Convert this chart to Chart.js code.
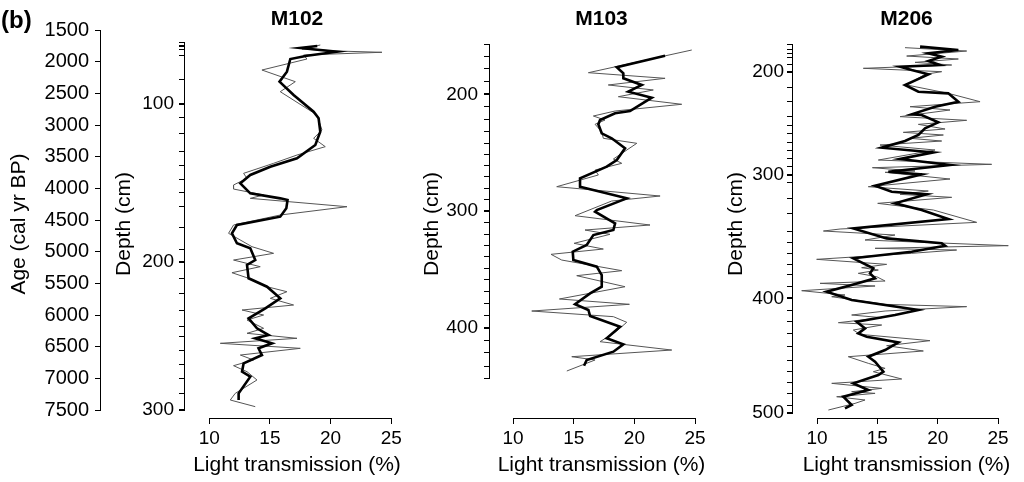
<!DOCTYPE html>
<html lang="en">
<head>
<meta charset="UTF-8">
<title>Light transmission cores</title>
<script src="https://cdn.jsdelivr.net/npm/chart.js"></script>
<style>
  body { margin: 0; background: #fff; font-family: 'Liberation Sans', Arial, sans-serif; }
  #wrap { position: relative; width: 1024px; height: 482px; overflow: hidden; }
  #wrap canvas { position: absolute; top: 0; }
  #tag { position: absolute; left: 1px; top: 8px; font: bold 24px/24px 'Liberation Sans', Arial, sans-serif; }
</style>
</head>
<body>
<div id="wrap">
  <canvas id="c102" width="412" height="482" style="left:0px"></canvas>
  <canvas id="c103" width="306" height="482" style="left:410px"></canvas>
  <canvas id="c206" width="312" height="482" style="left:712px"></canvas>
  <div id="tag">(b)</div>
</div>
<script>
// shared axes
const ageTicks = [1500, 2000, 2500, 3000, 3500, 4000, 4500, 5000, 5500, 6000, 6500, 7000, 7500];
const ltTicks = [10, 15, 20, 25];
const AGE_MIN = 1500, AGE_MAX = 7626;

// M102 : depth ticks (cm) and their ages
const m102Depth = [40, 50, 60, 70, 80, 90, 100, 110, 120, 130, 140, 150, 160, 170, 180, 190, 200, 210, 220, 230, 240, 250, 260, 270, 280, 290, 300];
const m102DepthAge = [1705, 1737, 1768, 1800, 1895, 2289, 2668, 2874, 3142, 3426, 3647, 3853, 4058, 4279, 4626, 4958, 5163, 5416, 5668, 5921, 6189, 6347, 6568, 6789, 6995, 7232, 7500];
const m102RawAge = [1737, 1800, 1832, 1852, 1895, 1958, 2132, 2316, 2474, 2842, 3079, 3210, 3342, 3474, 3605, 3763, 3842, 3947, 4011, 4105, 4158, 4290, 4421, 4579, 4710, 4921, 5026, 5132, 5237, 5332, 5420, 5553, 5632, 5737, 5842, 5921, 6000, 6079, 6210, 6289, 6368, 6447, 6526, 6632, 6710, 6800, 6895, 7026, 7237, 7342, 7447];
const m102RawLT = [19.15, 17.64, 20.52, 24.23, 17.77, 18.05, 14.34, 17.09, 15.85, 18.88, 19.29, 18.60, 19.56, 17.23, 15.30, 12.83, 13.11, 12.00, 12.00, 14.48, 13.38, 21.35, 15.85, 12.00, 11.59, 13.52, 15.30, 12.00, 14.20, 11.87, 13.24, 14.76, 16.40, 15.03, 16.95, 12.70, 14.48, 13.11, 14.48, 13.11, 17.23, 10.91, 17.50, 12.56, 13.65, 12.00, 13.11, 13.93, 12.14, 11.73, 13.79];
const m102SmAge = [1753, 1784, 1843, 1906, 1958, 2158, 2316, 2526, 2790, 2894, 3106, 3316, 3526, 3658, 3789, 3921, 4079, 4158, 4184, 4316, 4447, 4579, 4710, 4868, 4947, 5132, 5210, 5420, 5553, 5737, 5894, 6052, 6210, 6316, 6368, 6447, 6526, 6632, 6763, 6895, 6974, 7237, 7342];
const m102SmLT = [18.9, 17.5, 20.52, 18.05, 16.68, 16.40, 15.79, 16.95, 18.60, 19.01, 19.15, 18.74, 17.23, 15.03, 13.38, 12.56, 13.38, 15.85, 16.45, 16.35, 15.85, 12.28, 11.87, 12.28, 13.38, 13.79, 13.11, 13.24, 14.76, 15.85, 14.62, 13.24, 13.93, 14.89, 13.79, 15.17, 14.06, 14.34, 12.83, 12.70, 13.38, 12.42, 12.42];

// M103
const m103Depth = [160, 170, 180, 190, 200, 210, 220, 230, 240, 250, 260, 270, 280, 290, 300, 310, 320, 330, 340, 350, 360, 370, 380, 390, 400, 410, 420, 430, 440];
const m103DepthAge = [1726, 1922, 2105, 2316, 2515, 2711, 2910, 3106, 3289, 3463, 3643, 3816, 3999, 4173, 4353, 4536, 4726, 4906, 5079, 5263, 5447, 5632, 5815, 6000, 6200, 6395, 6595, 6816, 6999];
const m103RawAge = [1816, 2174, 2263, 2368, 2447, 2553, 2673, 2779, 2858, 2921, 2989, 3106, 3210, 3289, 3537, 3605, 3711, 3789, 3974, 4121, 4200, 4432, 4579, 4658, 4726, 4868, 4958, 5042, 5132, 5300, 5379, 5553, 5747, 5831, 5937, 6026, 6115, 6273, 6421, 6553, 6658, 6710, 6884];
const m103RawLT = [24.73, 16.21, 22.53, 17.85, 21.56, 18.68, 23.90, 18.41, 16.62, 17.58, 16.76, 17.31, 17.44, 20.20, 18.27, 18.96, 16.76, 17.03, 13.60, 22.12, 18.13, 15.11, 21.29, 15.93, 17.99, 15.03, 17.44, 13.13, 14.01, 18.96, 15.25, 19.23, 13.82, 19.59, 11.54, 18.27, 19.37, 18.41, 17.17, 23.08, 14.84, 16.76, 14.43];
const m103SmAge = [1906, 2089, 2184, 2263, 2368, 2474, 2569, 2779, 2815, 2921, 2989, 3131, 3210, 3368, 3553, 3658, 3842, 3974, 4158, 4342, 4368, 4552, 4658, 4737, 4895, 5000, 5132, 5237, 5368, 5553, 5658, 5831, 5921, 6016, 6184, 6368, 6463, 6579, 6710, 6800];
const m103SmLT = [22.53, 18.55, 19.09, 19.09, 20.61, 19.50, 21.43, 19.64, 18.41, 17.17, 17.03, 17.31, 18.13, 19.23, 18.55, 17.72, 15.52, 15.52, 19.37, 16.90, 16.76, 18.41, 18.27, 16.62, 16.07, 14.92, 14.97, 16.90, 17.31, 17.31, 16.35, 15.11, 16.21, 16.35, 18.82, 17.72, 19.09, 18.27, 16.07, 15.85];

// M206
const m206Depth = [150, 160, 170, 180, 190, 200, 210, 220, 230, 240, 250, 260, 270, 280, 290, 300, 310, 320, 330, 340, 350, 360, 370, 380, 390, 400, 410, 420, 430, 440, 450, 460, 470, 480, 490, 500];
const m206DepthAge = [1726, 1800, 1868, 1937, 2042, 2158, 2405, 2632, 2858, 3011, 3142, 3273, 3406, 3526, 3658, 3789, 3911, 4157, 4405, 4674, 4852, 5026, 5200, 5368, 5553, 5736, 5921, 6106, 6289, 6500, 6711, 6895, 7062, 7236, 7421, 7547];
const m206RawAge = [1779, 1832, 1911, 1958, 2011, 2053, 2105, 2158, 2200, 2368, 2500, 2632, 2711, 2763, 2868, 2926, 2990, 3063, 3116, 3158, 3210, 3253, 3316, 3395, 3553, 3621, 3674, 3726, 3747, 3853, 3974, 4042, 4095, 4142, 4237, 4342, 4537, 4642,
  4674, 4737, 4816, 4905, 4947, 4974, 5026, 5121, 5200, 5253, 5290, 5342, 5395, 5463, 5500, 5542, 5616, 5684, 5711, 5832, 5868, 5937, 6000, 6042, 6121, 6158, 6237, 6305, 6405, 6484, 6568, 6658, 6763, 6842, 6895, 7010, 7079, 7158, 7211, 7237, 7290, 7342, 7395, 7500];
const m206RawLT = [17.29, 22.40, 17.43, 21.71, 18.12, 21.16, 13.84, 20.33, 18.95, 17.43, 20.88, 23.51, 17.71, 21.02, 16.88, 22.40, 18.40, 20.61, 17.15, 20.47, 17.71, 20.33, 15.22, 19.78, 15.08, 24.47, 14.59, 18.12, 15.64, 21.02, 14.25, 19.22, 16.88, 21.16, 15.03, 19.64, 23.23, 11.91,
  10.53, 16.46, 13.98, 25.85, 14.81, 21.57, 17.84, 9.97, 15.77, 13.70, 15.08, 13.42, 14.94, 15.64, 10.25, 14.81, 8.73, 12.32, 11.22, 15.64, 22.40, 15.64, 12.87, 15.36, 11.77, 15.36, 13.01, 13.56, 19.36, 15.77, 18.81, 12.59, 14.25, 15.64, 14.67, 17.02, 11.22, 15.36, 12.87, 14.81, 11.63, 13.98, 13.15, 10.94];
const m206SmAge = [1763, 1816, 1868, 1921, 1990, 2053, 2079, 2132, 2200, 2368, 2474, 2500, 2632, 2711, 2832, 2842, 2958, 3053, 3158, 3253, 3358, 3432, 3537, 3632, 3737, 3779, 3958, 4053, 4095, 4237, 4342, 4484, 4632,
  4790, 4868, 4905, 5000, 5105, 5263, 5342, 5421, 5526, 5632, 5763, 5921, 6000, 6105, 6211, 6290, 6342, 6432, 6553, 6658, 6737, 6895, 6947, 7079, 7184, 7290, 7421, 7474];
const m206SmLT = [18.54, 21.71, 19.23, 20.33, 19.23, 20.19, 16.88, 17.84, 19.23, 17.29, 18.40, 20.88, 21.71, 19.78, 17.84, 18.67, 20.05, 18.95, 18.40, 17.29, 15.36, 19.64, 16.88, 21.02, 15.91, 18.67, 14.81, 16.19, 19.09, 16.46, 18.67, 20.88, 13.01,
  15.77, 20.33, 20.61, 17.84, 13.01, 14.67, 14.39, 14.81, 12.87, 10.80, 12.87, 18.40, 16.46, 13.29, 13.98, 13.42, 14.12, 16.74, 15.64, 14.25, 14.81, 15.50, 15.08, 13.01, 14.25, 12.18, 12.87, 12.32];

const FONT = "'Liberation Sans', Arial, sans-serif";
Chart.defaults.font.family = FONT;
Chart.defaults.color = '#000';

// R style axis lines: only from first to last tick
const rAxisLines = {
  id: 'rAxisLines',
  afterDraw(chart) {
    const ctx = chart.ctx;
    ctx.save();
    ctx.strokeStyle = '#000';
    ctx.lineWidth = 1;
    Object.values(chart.scales).forEach(s => {
      if (!s.ticks.length) return;
      const a = s.getPixelForValue(s.ticks[0].value);
      const b = s.getPixelForValue(s.ticks[s.ticks.length - 1].value);
      ctx.beginPath();
      if (s.isHorizontal()) {
        const y = Math.round(s.top) + 0.5;
        ctx.moveTo(a, y); ctx.lineTo(b, y);
      } else {
        const x = Math.round(s.right) - 0.5;
        ctx.moveTo(x, a); ctx.lineTo(x, b);
      }
      ctx.stroke();
    });
    ctx.restore();
  }
};

function pts(ages, lts) {
  return ages.map((a, i) => ({ x: lts[i], y: a }));
}

function depthAxis(depths, ages, width, labelPad, titlePad) {
  return {
    type: 'linear', position: 'left', reverse: true, min: AGE_MIN, max: AGE_MAX, weight: 0,
    afterBuildTicks: s => { s.ticks = ages.map(v => ({ value: v })); },
    afterFit: s => { s.width = width; },
    ticks: {
      autoSkip: false, padding: labelPad, font: { size: 19 }, color: '#000',
      callback: (v, i) => depths[i] % 100 === 0 ? String(depths[i]) : ''
    },
    grid: {
      drawOnChartArea: false, tickLength: 6, color: '#000',
      lineWidth: c => depths[c.index] % 100 === 0 ? 2 : 1
    },
    border: { display: false },
    title: { display: true, text: 'Depth (cm)', font: { size: 21 }, color: '#000', padding: { top: titlePad, bottom: 0 } }
  };
}

function ltAxis(min, max) {
  return {
    type: 'linear', position: 'bottom', min: min, max: max,
    afterBuildTicks: s => { s.ticks = ltTicks.map(v => ({ value: v })); },
    afterFit: s => { s.height = 64; },
    ticks: { autoSkip: false, padding: 3, font: { size: 19 }, color: '#000', maxRotation: 0 },
    grid: { drawOnChartArea: false, tickLength: 6, color: '#000' },
    border: { display: false },
    title: { display: true, text: 'Light transmission (%)', font: { size: 21 }, color: '#000', padding: { top: 0, bottom: 4 } }
  };
}

function makePanel(id, name, raw, smooth, scales, padRight) {
  return new Chart(document.getElementById(id), {
    type: 'scatter',
    data: {
      datasets: [
        { data: smooth, showLine: true, borderColor: '#000', borderWidth: 2.6, pointRadius: 0, tension: 0 },
        { data: raw, showLine: true, borderColor: '#555', borderWidth: 1, pointRadius: 0, tension: 0 }
      ]
    },
    options: {
      responsive: false,
      animation: false,
      devicePixelRatio: 1,
      layout: { padding: { top: 2, right: padRight, bottom: 0, left: 0 } },
      scales: scales,
      plugins: {
        legend: { display: false },
        tooltip: { enabled: false },
        title: {
          display: true, text: name, fullSize: false, color: '#000',
          font: { size: 21, weight: 'bold', lineHeight: 1 }, padding: { top: 7, bottom: 0 }
        }
      }
    },
    plugins: [rAxisLines]
  });
}

// M102 with the age axis outside the depth axis
makePanel('c102', 'M102', pts(m102RawAge, m102RawLT), pts(m102SmAge, m102SmLT), {
  x: ltAxis(8.0, 26.46),
  y: depthAxis(m102Depth, m102DepthAge, 84, 5, 11),
  age: {
    type: 'linear', position: 'left', reverse: true, min: AGE_MIN, max: AGE_MAX, weight: 1,
    afterBuildTicks: s => { s.ticks = ageTicks.map(v => ({ value: v })); },
    afterFit: s => { s.width = 101; },
    ticks: { autoSkip: false, padding: 6, font: { size: 20 }, color: '#000', callback: v => String(v) },
    grid: { drawOnChartArea: false, tickLength: 6, color: '#000' },
    border: { display: false },
    title: { display: true, text: 'Age (cal yr BP)', font: { size: 21 }, color: '#000', padding: { top: 7, bottom: 0 } }
  }
}, 3);

makePanel('c103', 'M103', pts(m103RawAge, m103RawLT), pts(m103SmAge, m103SmLT), {
  x: ltAxis(8.1, 26.48),
  y: depthAxis(m103Depth, m103DepthAge, 80, 6, 10)
}, 3);

makePanel('c206', 'M206', pts(m206RawAge, m206RawLT), pts(m206SmAge, m206SmLT), {
  x: ltAxis(8.01, 26.82),
  y: depthAxis(m206Depth, m206DepthAge, 81, 3, 12)
}, 4);
</script>
</body>
</html>
